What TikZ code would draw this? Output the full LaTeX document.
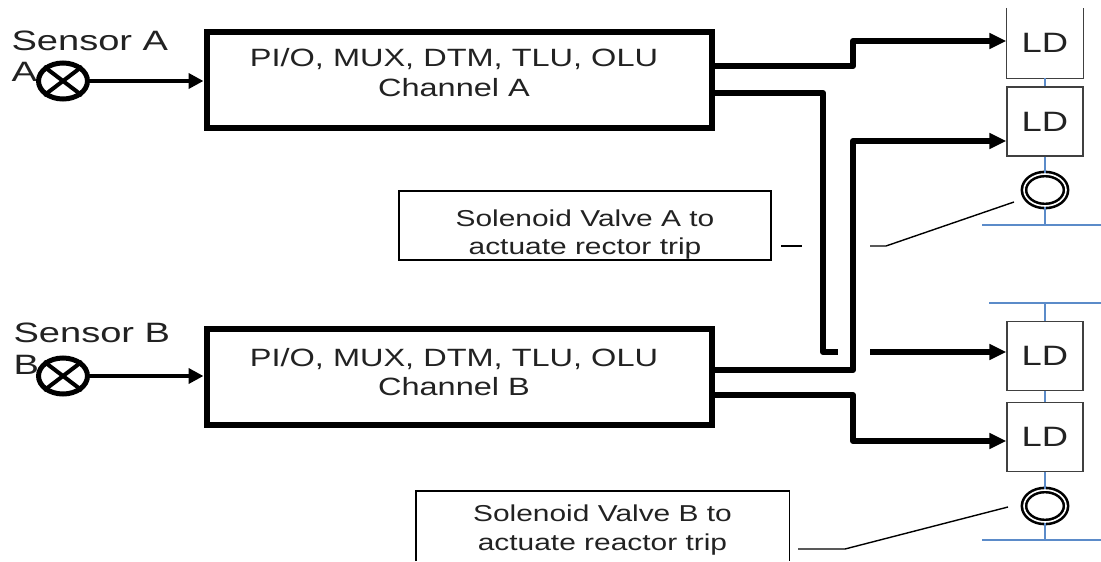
\documentclass[tikz,border=0pt]{standalone}
\usepackage{fontspec}
\usetikzlibrary{arrows.meta,shapes.geometric,shapes.misc}
\newfontfamily\widefont[FakeStretch=1.3]{Liberation Sans}
\newfontfamily\sensorfont[FakeStretch=1.36]{Liberation Sans}
\definecolor{busblue}{HTML}{5B8BC9}
\definecolor{textdark}{HTML}{222222}

\tikzset{
    chanbox/.style={draw, line width=6pt, minimum width=505pt, minimum height=96pt},
    chantext/.style={text=textdark, align=center, font=\widefont\fontsize{25}{29.5}\selectfont},
    ldbox/.style={draw=black!75, line width=1.2pt, minimum width=76pt, minimum height=69pt,
        text=textdark, font=\widefont\fontsize{28}{32}\selectfont},
    notebox/.style={line width=1.4pt, minimum width=372pt, minimum height=69pt},
    notetext/.style={text=textdark, align=center, font=\widefont\fontsize{23}{28.5}\selectfont},
    sensorlabel/.style={text=textdark, font=\sensorfont\fontsize{28}{32}\selectfont},
    sensormark/.style={ellipse, draw, line width=5pt, fill=white, inner sep=0pt,
        minimum width=49pt, minimum height=36pt},
    valvemark/.style={ellipse, draw, double, line width=2.6pt, double distance=1.6pt, fill=white,
        inner sep=0pt, minimum width=42pt, minimum height=32pt},
    sigline/.style={line width=6pt, line join=round,
        -{Triangle[length=17pt,width=15pt]}},
    plainsig/.style={line width=6pt, line join=round},
    inputline/.style={line width=4.4pt, -{Triangle[length=15pt,width=15pt]}},
    leader/.style={line width=1.4pt},
    bus/.style={busblue, line width=2pt}
}

\begin{document}
\begin{tikzpicture}[x=1pt,y=-1pt]
    \useasboundingbox (0,0) rectangle (1101,562);

    % Channel boxes
    \node[chanbox] (chanA) at (459,79.5) {};
    \node[chanbox] (chanB) at (459,376.5) {};
    \node[chantext] (textA) at (454,72.5) {PI/O, MUX, DTM, TLU, OLU\\Channel A};
    \node[chantext] (textB) at (454,372) {PI/O, MUX, DTM, TLU, OLU\\Channel B};

    % Sensors
    \node[sensorlabel, anchor=west] (labelA) at (8,41) {Sensor A};
    \node[sensorlabel, anchor=west] (markA) at (8,72) {A};
    \node[sensorlabel, anchor=west] (labelB) at (10,333) {Sensor B};
    \node[sensorlabel, anchor=west] (markB) at (10,365) {B};
    \foreach \name/\y in {A/81, B/376}{
        \node[sensormark] (sens\name) at (63,\y) {};
        \draw[line width=4pt] (sens\name.north east) -- (sens\name.south west);
        \draw[line width=4pt] (sens\name.north west) -- (sens\name.south east);
        \draw[inputline] (sens\name.east) -- (chan\name.west |- sens\name.east);
    }

    % Logic drivers
    \foreach \name/\y in {
        two/121.5,
        three/356,
        four/437
    }{
        \node[ldbox] (ld\name) at (1045,\y) {\raisebox{-2pt}{LD}};
    }
    \node[ldbox, draw=none] (ldone) at (1045,43) {LD};
    \draw[black!75, line width=1.2pt] (ldone.north west) -- (ldone.south west)
        -- (ldone.south east) -- (ldone.north east);

    % Solenoid valves
    \node[valvemark] (valveA) at (1045,190) {};
    \node[valvemark] (valveB) at (1045,506) {};

    % Blue buses
    \coordinate (busA) at (1045,225);
    \coordinate (busT) at (1045,303);
    \coordinate (busB) at (1045,540);
    \draw[bus] (ldone) -- (ldtwo);
    \draw[bus] (ldtwo) -- (valveA);
    \draw[bus] (valveA) -- (busA);
    \draw[bus] (982,225) -- (1101,225);
    \draw[bus] (989,303) -- (1101,303);
    \draw[bus] (busT) -- (ldthree);
    \draw[bus] (ldthree) -- (ldfour);
    \draw[bus] (ldfour) -- (valveB);
    \draw[bus] (valveB) -- (busB);
    \draw[bus] (982,540) -- (1101,540);

    % Channel A outputs
    \draw[sigline] (chanA.east |- 0,66) -- (853,66) -- (853,41) -- (ldone.west |- 0,41);
    \coordinate (stopA) at (838,352);
    \draw[plainsig] (chanA.east |- 0,93) -- (823,93) -- (823,352) -- (stopA);
    \coordinate (startA) at (870,352);
    \draw[sigline] (startA) -- (ldthree.west |- startA);

    % Channel B outputs
    \draw[sigline] (chanB.east |- 0,370) -- (853,370) -- (853,141) -- (ldtwo.west |- 0,141);
    \draw[sigline] (chanB.east |- 0,395) -- (853,395) -- (853,441) -- (ldfour.west |- 0,441);

    % Valve A note
    \node[notebox, draw] (noteA) at (585,225.5) {};
    \node[notetext] (notetextA) at (585,234.5) {Solenoid Valve A to\\actuate rector trip};
    \coordinate (gapA) at (781,246);
    \coordinate (gapB) at (802,246);
    \coordinate (gapC) at (870,246);
    \coordinate (gapD) at (886,246);
    \coordinate (tipA) at (1014,202);
    \draw[leader] (gapA) -- (gapB);
    \draw[leader] (gapC) -- (gapD) -- (tipA);

    % Valve B note, cut off at the lower edge
    \node[notebox] (noteB) at (602.5,526) {};
    \node[notetext] (notetextB) at (602.5,530) {Solenoid Valve B to\\actuate reactor trip};
    \draw[leader] (noteB.south west) -- (noteB.north west) -- (noteB.north east) -- (noteB.south east);
    \coordinate (gapE) at (798,549);
    \coordinate (gapF) at (845,549);
    \coordinate (tipB) at (1008,507);
    \draw[leader] (gapE) -- (gapF) -- (tipB);
\end{tikzpicture}
\end{document}
